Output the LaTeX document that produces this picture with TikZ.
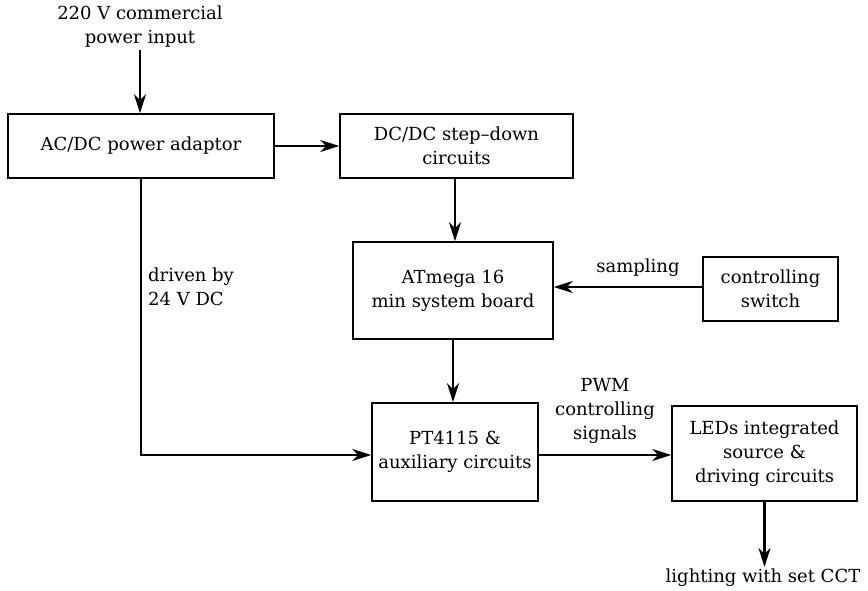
\documentclass[tikz,border=0pt]{standalone}
\usepackage{fontspec}
\setmainfont{DejaVu Serif}
\usetikzlibrary{arrows.meta}
\tikzset{
  txt/.style={font=\fontsize{18}{24}\selectfont},
  blk/.style={txt, draw, line width=1.5pt, rectangle, align=center, inner sep=0pt},
  lbl/.style={txt, align=center, inner sep=0pt},
  flow/.style={line width=2.2pt, -{Stealth[length=19pt, width=12pt, inset=6pt]}}
}
\begin{document}
\begin{tikzpicture}[x=1pt, y=-1pt]
\useasboundingbox (0,0) rectangle (868,591);
\fill[white] (0,0) rectangle (868,591);

% blocks
\node[blk, minimum width=266pt, minimum height=64pt] (acdc) at (141,146) {AC/DC power adaptor};
\node[blk, minimum width=233pt, minimum height=64pt] (dcdc) at (456.5,146) {DC/DC step--down\\circuits};
\node[blk, minimum width=200pt, minimum height=97pt] (mcu) at (453,290.5) {ATmega 16\\min system board};
\node[blk, minimum width=135pt, minimum height=64pt] (sw) at (770.5,289) {controlling\\switch};
\node[blk, minimum width=166pt, minimum height=98pt] (pt) at (455,452) {PT4115 \&\\auxiliary circuits};
\node[blk, minimum width=185pt, minimum height=95pt] (led) at (764.5,453.5) {LEDs integrated\\source \&\\driving circuits};

% free labels
\node[lbl] (in) at (140,27) {220 V commercial\\power input};
\node[lbl, anchor=west, align=left] (drv) at (148,287) {driven by\\24 V DC};
\node[lbl] (smp) at (638,268) {sampling};
\node[lbl] (pwm) at (605,411) {PWM\\controlling\\signals};
\coordinate (outend) at (led.south |- 0,567);
\node[lbl, anchor=north] (cct) at (763,569) {lighting with set CCT};

% connectors
\draw[flow] (in.south |- 0,50) -- (acdc.north -| in.south);
\draw[flow] (acdc.east) -- (dcdc.west);
\draw[flow] (dcdc.south -| 455,0) -- (mcu.north -| 455,0);
\draw[flow] (sw.west |- 0,287) -- (mcu.east |- 0,287);
\draw[flow] (mcu.south) -- (pt.north -| mcu.south);
\draw[flow] (acdc.south) |- (pt.west |- 0,455);
\draw[flow] (pt.east |- 0,455) -- (led.west |- 0,455);
\draw[flow] (led.south) -- (outend);
\end{tikzpicture}
\end{document}
